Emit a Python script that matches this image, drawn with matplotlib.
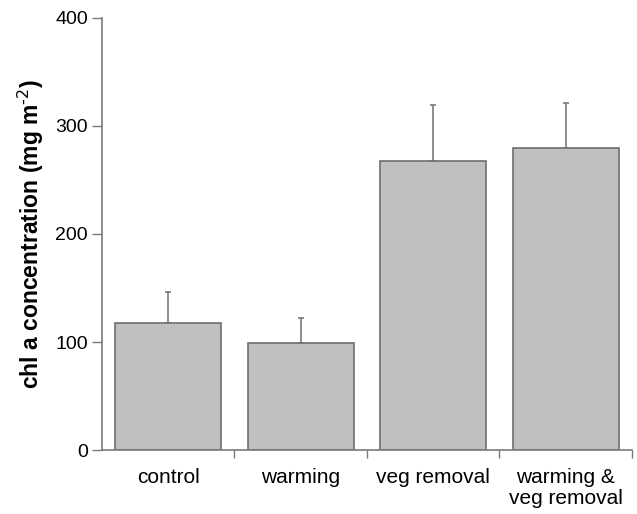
import matplotlib
matplotlib.use("Agg")
import matplotlib.pyplot as plt
import numpy as np

plt.rcParams['font.family'] = ['Liberation Sans', 'DejaVu Sans']

categories = ["control", "warming", "veg removal", "warming &\nveg removal"]
means = [118, 99, 268, 280]
errors = [28, 23, 51, 41]

fig = plt.figure(figsize=(6.37, 5.14), dpi=100)
ax = fig.add_axes([0.160, 0.1245, 0.832, 0.8405])

x = np.arange(len(categories)) + 0.5
ax.bar(x, means, width=0.8, color="#c0c0c0", edgecolor="#6e6e6e", linewidth=1.2, zorder=2)
ax.errorbar(x, means, yerr=[np.zeros(len(errors)), errors], fmt="none",
            ecolor="#7a7a7a", elinewidth=1.2, capsize=2.5, capthick=1.2, zorder=1)

ax.set_xlim(0, 4)
ax.set_ylim(0, 400)
ax.set_yticks([0, 100, 200, 300, 400])
ax.set_xticks(x)
ax.set_xticklabels(categories, fontsize=15, va="top", linespacing=1.15)
ax.set_xticks(np.arange(1, 5), minor=True)
ax.tick_params(axis="x", which="major", length=0, pad=13)
ax.tick_params(axis="x", which="minor", length=6, width=1, color="#7a7a7a", direction="out")
ax.tick_params(axis="y", length=7, width=1, color="#7a7a7a", labelsize=14, pad=3)

for s in ["top", "right"]:
    ax.spines[s].set_visible(False)
for s in ["left", "bottom"]:
    ax.spines[s].set_color("#7a7a7a")
    ax.spines[s].set_linewidth(1.2)

ax.set_ylabel("chl a concentration (mg m$^{\\text{-2}}$)", fontsize=16.5, fontweight="bold", labelpad=7)

fig.savefig("out.png", dpi=100)
